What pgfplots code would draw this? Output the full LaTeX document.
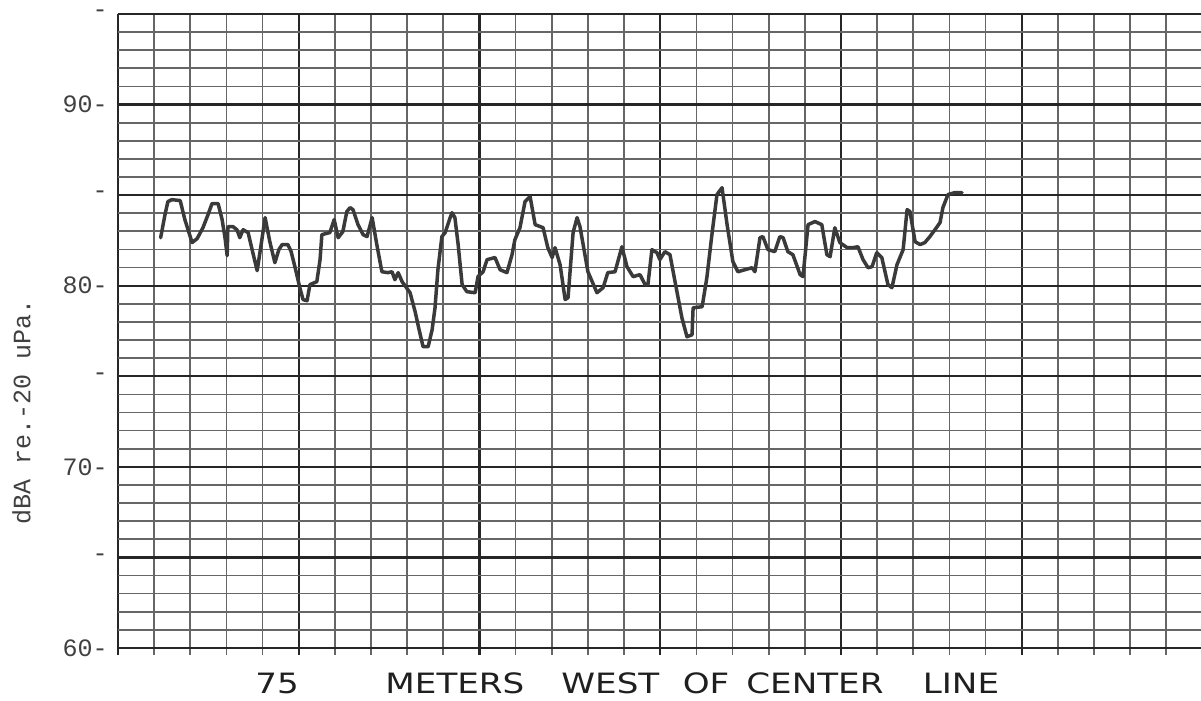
\documentclass[border=0pt]{standalone}
\usepackage{fontspec}
\usepackage{pgfplots}
\pgfplotsset{compat=1.18}
\newfontfamily\tw{Liberation Mono}
\newfontfamily\hand{DejaVu Sans}
\definecolor{ink}{HTML}{3A3A3A}
\begin{document}
\begin{tikzpicture}
\begin{axis}[
  at={(0,0)}, anchor=south west,
  scale only axis, width=541.5pt, height=320.6pt,
  xmin=0, xmax=29.96, ymin=59.6, ymax=95,
  axis line style={draw=none},
  xtick={0,5,10,15,20,25},
  minor xtick={1,2,3,4,6,7,8,9,11,12,13,14,16,17,18,19,21,22,23,24,26,27,28,29},
  xticklabels={,,,,,},
  ytick={60,65,70,75,80,85,90,95},
  yticklabels={60-,-,70-,-,80-,-,90-,-},
  minor ytick={61,62,63,64,66,67,68,69,71,72,73,74,76,77,78,79,81,82,83,84,86,87,88,89,91,92,93,94},
  major tick length=0pt, minor tick length=0pt,
  grid=both,
  major grid style={line width=1.15pt, color=black!85},
  minor grid style={line width=0.85pt, color=black!60},
  yticklabel style={font=\tw\fontsize{12.5}{14}\selectfont, text=black!75, inner sep=0pt, xshift=-5pt},
  clip=false,
]
\addplot[ink, line width=1.75pt, line join=round, line cap=round, mark=none] coordinates {
(1.18,82.65)(1.30,83.92)(1.38,84.64)(1.49,84.75)(1.72,84.70)(1.85,83.65)(2.05,82.38)(2.19,82.60)(2.35,83.20)(2.49,83.92)(2.60,84.53)(2.77,84.53)(2.88,83.65)(2.96,82.65)(3.02,81.66)(3.04,83.26)(3.18,83.26)(3.29,83.09)(3.37,82.65)(3.46,83.09)(3.60,82.93)(3.71,81.99)(3.85,80.83)(3.96,82.27)(4.07,83.76)(4.20,82.43)(4.34,81.27)(4.45,81.99)(4.54,82.27)(4.70,82.27)(4.79,81.88)(4.90,81.00)(5.03,79.89)(5.12,79.23)(5.23,79.17)(5.31,80.06)(5.50,80.22)(5.59,81.44)(5.64,82.82)(5.86,82.93)(5.98,83.65)(6.09,82.65)(6.22,82.98)(6.33,84.09)(6.42,84.31)(6.50,84.20)(6.64,83.37)(6.78,82.82)(6.89,82.71)(7.03,83.76)(7.16,82.27)(7.30,80.77)(7.47,80.72)(7.58,80.77)(7.66,80.33)(7.75,80.72)(7.86,80.22)(8.08,79.61)(8.22,78.56)(8.33,77.57)(8.44,76.63)(8.58,76.63)(8.69,77.57)(8.77,78.78)(8.85,80.88)(8.96,82.71)(9.05,82.93)(9.19,83.76)(9.24,84.03)(9.32,83.76)(9.41,82.27)(9.52,80.06)(9.65,79.67)(9.88,79.61)(9.96,80.50)(10.10,80.77)(10.21,81.44)(10.43,81.55)(10.57,80.88)(10.76,80.72)(10.90,81.71)(10.98,82.54)(11.12,83.20)(11.26,84.64)(11.40,84.92)(11.54,83.37)(11.76,83.20)(11.89,82.10)(12.01,81.55)(12.09,82.10)(12.23,81.16)(12.37,79.23)(12.45,79.34)(12.59,82.93)(12.70,83.76)(12.78,83.26)(13.00,80.77)(13.25,79.61)(13.42,79.89)(13.55,80.72)(13.75,80.77)(13.94,82.15)(14.08,81.05)(14.25,80.50)(14.44,80.61)(14.58,80.06)(14.66,80.06)(14.77,81.99)(14.91,81.82)(14.99,81.44)(15.13,81.88)(15.27,81.71)(15.41,80.22)(15.60,78.23)(15.74,77.18)(15.88,77.29)(15.91,78.78)(16.16,78.84)(16.29,80.44)(16.43,82.82)(16.57,85.03)(16.71,85.41)(16.85,83.37)(17.01,81.33)(17.15,80.77)(17.34,80.88)(17.54,80.99)(17.62,80.77)(17.76,82.65)(17.84,82.71)(17.98,81.99)(18.17,81.88)(18.31,82.71)(18.40,82.65)(18.53,81.88)(18.67,81.71)(18.87,80.61)(18.95,80.50)(19.09,83.37)(19.28,83.54)(19.47,83.37)(19.61,81.71)(19.70,81.60)(19.83,83.20)(19.97,82.38)(20.17,82.10)(20.33,82.10)(20.47,82.15)(20.61,81.44)(20.75,80.99)(20.86,81.05)(20.99,81.82)(21.13,81.55)(21.30,80.06)(21.41,79.89)(21.55,81.16)(21.72,81.99)(21.83,84.20)(21.91,84.09)(22.05,82.43)(22.19,82.27)(22.32,82.38)(22.46,82.71)(22.60,83.09)(22.74,83.48)(22.82,84.31)(22.96,85.03)(23.15,85.14)(23.35,85.14)
};
\node[rotate=90, font=\tw\fontsize{12.5}{14}\selectfont, text=black!75] at (axis cs:-2.67,73.04) {dBA re.-20 uPa.};
\begin{scope}[every node/.style={anchor=base, font=\hand\fontsize{14}{16}\selectfont, text=black!88, xscale=1.22, inner sep=0pt}]
\node at (axis cs:4.40,57.51) {75};
\node at (axis cs:9.32,57.51) {METERS};
\node at (axis cs:13.62,57.51) {WEST};
\node at (axis cs:16.27,57.51) {OF};
\node at (axis cs:19.28,57.51) {CENTER};
\node at (axis cs:23.32,57.51) {LINE};
\end{scope}
\end{axis}
\pgfresetboundingbox
\path[use as bounding box] (-59pt,-22.9pt) rectangle (541.5pt,327.6pt);
\end{tikzpicture}
\end{document}
